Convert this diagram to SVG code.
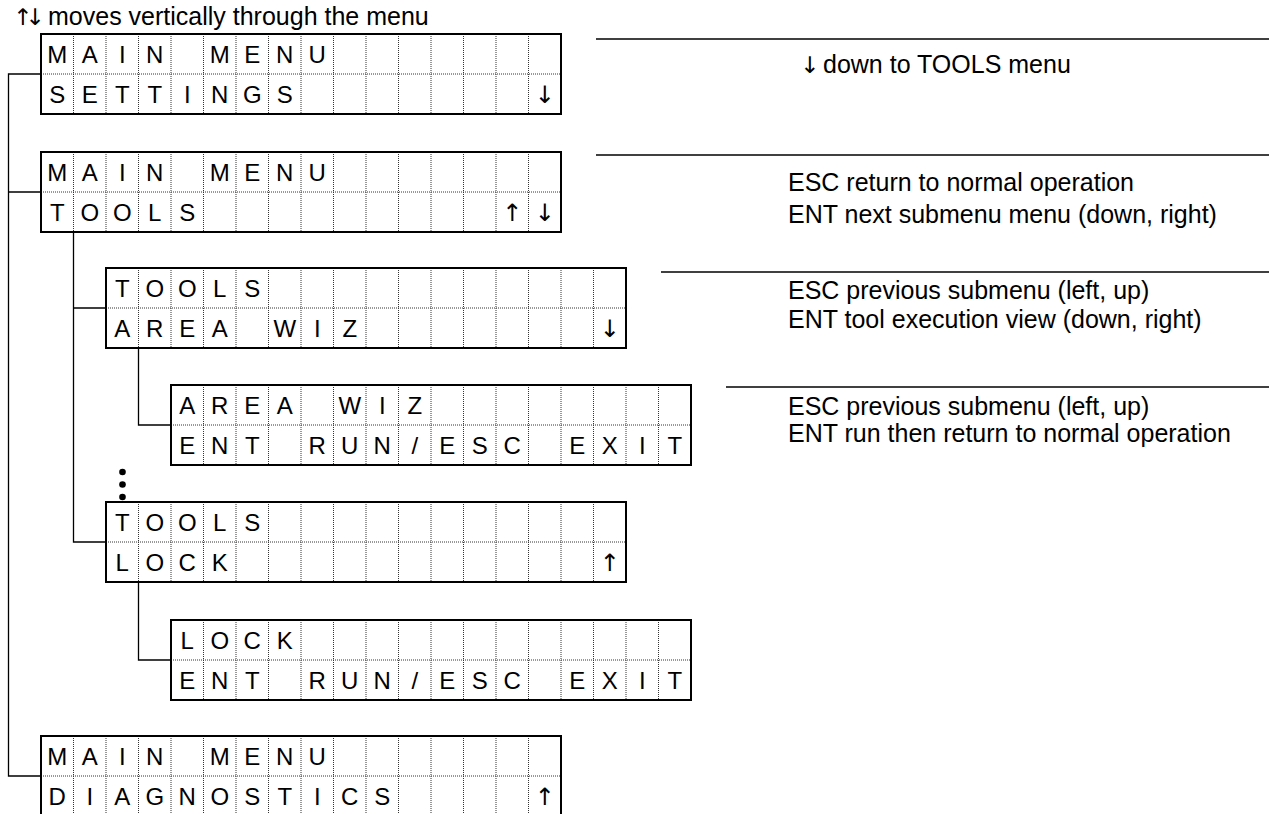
<svg xmlns="http://www.w3.org/2000/svg" xmlns:xlink="http://www.w3.org/1999/xlink" width="1269" height="814" viewBox="0 0 1269 814">
<style>
.cell{font-family:"Liberation Sans",Arial,sans-serif;font-size:24px;fill:#000;text-anchor:middle}
.arr{font-family:"DejaVu Sans",sans-serif;font-size:24px;fill:#000;text-anchor:middle}
.note{font-family:"Liberation Sans",Arial,sans-serif;font-size:25px;fill:#000}
.na{font-family:"DejaVu Sans",sans-serif;font-size:23px;letter-spacing:-7px}
.dot{stroke:#333;stroke-width:1;stroke-dasharray:1 1;fill:none}
.frame{fill:#fff;stroke:#000;stroke-width:2}
.conn{fill:none;stroke:#000;stroke-width:1.3}
.sep{stroke:#000;stroke-width:1.6}
</style>
<defs>
<g id="lcd">
<rect class="frame" x="0" y="0" width="520" height="80"/>
<path class="dot" d="M0,40H520M32.5,0V80M65,0V80M97.5,0V80M130,0V80M162.5,0V80M195,0V80M227.5,0V80M260,0V80M292.5,0V80M325,0V80M357.5,0V80M390,0V80M422.5,0V80M455,0V80M487.5,0V80"/>
<rect x="0" y="0" width="520" height="80" fill="none" stroke="#000" stroke-width="2"/>
</g>
</defs>
<rect width="1269" height="814" fill="#fff"/>
<text class="note" x="13" y="25"><tspan class="na">↑↓</tspan><tspan x="48">moves vertically through the menu</tspan></text>

<g id="connectors">
<path class="conn" d="M41,74H8.5V776H41M8.5,192H41"/>
<path class="conn" d="M73.5,232V542H106M73.5,308H106"/>
<path class="conn" d="M138.5,348V425H171"/>
<path class="conn" d="M138.5,582V660H171"/>
</g>

<g id="menu-settings" transform="translate(41,34)">
<use xlink:href="#lcd"/>
<text class="cell" x="16.25 48.75 81.25 113.75 146.25 178.75 211.25 243.75 276.25" y="28.5">MAIN MENU</text>
<text class="cell" x="16.25 48.75 81.25 113.75 146.25 178.75 211.25 243.75" y="68.5">SETTINGS</text>
<text class="arr" x="503.75" y="69">↓</text>
</g>

<g id="menu-tools" transform="translate(41,152)">
<use xlink:href="#lcd"/>
<text class="cell" x="16.25 48.75 81.25 113.75 146.25 178.75 211.25 243.75 276.25" y="28.5">MAIN MENU</text>
<text class="cell" x="16.25 48.75 81.25 113.75 146.25" y="68.5">TOOLS</text>
<text class="arr" x="471.25 503.75" y="69">↑↓</text>
</g>

<g id="tools-areawiz" transform="translate(106,268)">
<use xlink:href="#lcd"/>
<text class="cell" x="16.25 48.75 81.25 113.75 146.25" y="28.5">TOOLS</text>
<text class="cell" x="16.25 48.75 81.25 113.75 146.25 178.75 211.25 243.75" y="68.5">AREA WIZ</text>
<text class="arr" x="503.75" y="69">↓</text>
</g>

<g id="areawiz-run" transform="translate(171,385)">
<use xlink:href="#lcd"/>
<text class="cell" x="16.25 48.75 81.25 113.75 146.25 178.75 211.25 243.75" y="28.5">AREA WIZ</text>
<text class="cell" x="16.25 48.75 81.25 113.75 146.25 178.75 211.25 243.75 276.25 308.75 341.25 373.75 406.25 438.75 471.25 503.75" y="68.5">ENT RUN/ESC EXIT</text>
</g>

<g id="ellipsis">
<circle cx="122.5" cy="472" r="3.3"/>
<circle cx="122.5" cy="484.5" r="3.3"/>
<circle cx="122.5" cy="497" r="3.3"/>
</g>

<g id="tools-lock" transform="translate(106,502)">
<use xlink:href="#lcd"/>
<text class="cell" x="16.25 48.75 81.25 113.75 146.25" y="28.5">TOOLS</text>
<text class="cell" x="16.25 48.75 81.25 113.75" y="68.5">LOCK</text>
<text class="arr" x="503.75" y="69">↑</text>
</g>

<g id="lock-run" transform="translate(171,620)">
<use xlink:href="#lcd"/>
<text class="cell" x="16.25 48.75 81.25 113.75" y="28.5">LOCK</text>
<text class="cell" x="16.25 48.75 81.25 113.75 146.25 178.75 211.25 243.75 276.25 308.75 341.25 373.75 406.25 438.75 471.25 503.75" y="68.5">ENT RUN/ESC EXIT</text>
</g>

<g id="menu-diagnostics" transform="translate(41,736)">
<use xlink:href="#lcd"/>
<text class="cell" x="16.25 48.75 81.25 113.75 146.25 178.75 211.25 243.75 276.25" y="28.5">MAIN MENU</text>
<text class="cell" x="16.25 48.75 81.25 113.75 146.25 178.75 211.25 243.75 276.25 308.75 341.25" y="68.5">DIAGNOSTICS</text>
<text class="arr" x="503.75" y="69">↑</text>
</g>

<g id="notes">
<line class="sep" x1="596" y1="39" x2="1269" y2="39"/>
<text class="note" x="800" y="73"><tspan class="na">↓</tspan><tspan x="823">down to TOOLS menu</tspan></text>
<line class="sep" x1="596" y1="155" x2="1269" y2="155"/>
<text class="note" x="788" y="191">ESC return to normal operation</text>
<text class="note" x="788" y="223">ENT next submenu menu (down, right)</text>
<line class="sep" x1="661" y1="272" x2="1269" y2="272"/>
<text class="note" x="788" y="299">ESC previous submenu (left, up)</text>
<text class="note" x="788" y="328">ENT tool execution view (down, right)</text>
<line class="sep" x1="726" y1="387" x2="1269" y2="387"/>
<text class="note" x="788" y="415">ESC previous submenu (left, up)</text>
<text class="note" x="788" y="442">ENT run then return to normal operation</text>
</g>
</svg>
